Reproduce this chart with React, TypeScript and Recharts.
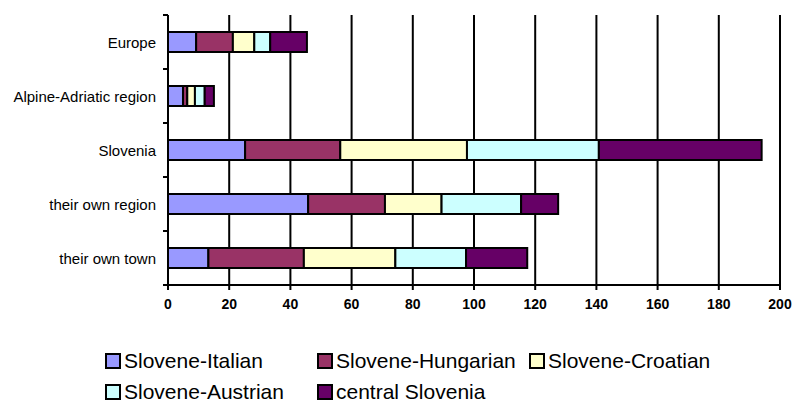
import React from 'react';
import { BarChart, Bar, XAxis, YAxis, CartesianGrid, Legend } from 'recharts';

const FONT = '"Liberation Sans", Arial, sans-serif';

// categories, listed top to bottom
const places = ['Europe', 'Alpine-Adriatic region', 'Slovenia', 'their own region', 'their own town'];

// values per series, same order as places
const sloveneItalian = [9.2, 4.9, 25.2, 45.8, 13.2];
const sloveneHungarian = [12.0, 1.4, 31.1, 25.1, 31.2];
const sloveneCroatian = [7.0, 2.5, 41.4, 18.5, 29.9];
const sloveneAustrian = [5.2, 3.2, 43.1, 26.0, 23.1];
const centralSlovenia = [12.0, 3.0, 53.2, 12.1, 20.0];

const xTicks = [0, 20, 40, 60, 80, 100, 120, 140, 160, 180, 200];

const series = [
  { key: 'italian', name: 'Slovene-Italian', color: '#9999FF', values: sloveneItalian },
  { key: 'hungarian', name: 'Slovene-Hungarian', color: '#993366', values: sloveneHungarian },
  { key: 'croatian', name: 'Slovene-Croatian', color: '#FFFFCC', values: sloveneCroatian },
  { key: 'austrian', name: 'Slovene-Austrian', color: '#CCFFFF', values: sloveneAustrian },
  { key: 'central', name: 'central Slovenia', color: '#660066', values: centralSlovenia },
];

const data = places.map((place, i) => {
  const row: Record<string, string | number> = { place };
  series.forEach(s => { row[s.key] = s.values[i]; });
  return row;
});

const BAND_HALF = 27; // half of one category band, for the boundary ticks

function PlaceTick(props: any) {
  const { x, y, payload, index } = props;
  return (
    <g>
      <text x={x} y={y} textAnchor="end" dominantBaseline="central"
        fontFamily={FONT} fontSize={15} fill="#000">
        {payload.value}
      </text>
      {index === 0 && (
        <line x1={x + 7} x2={x + 12} y1={y - BAND_HALF} y2={y - BAND_HALF} stroke="#000" strokeWidth={2} />
      )}
      <line x1={x + 7} x2={x + 12} y1={y + BAND_HALF} y2={y + BAND_HALF} stroke="#000" strokeWidth={2} />
    </g>
  );
}

function LegendBox() {
  return (
    <div style={{ position: 'relative', width: 796, height: 62, fontFamily: FONT }}>
      {series.map((s, i) => (
        <div key={s.key} style={{
          position: 'absolute',
          left: 105 + (i % 3) * 212,
          top: Math.floor(i / 3) * 31,
          display: 'flex', alignItems: 'center',
          fontSize: 21, lineHeight: '26px', color: '#000', whiteSpace: 'nowrap',
        }}>
          <span style={{
            display: 'inline-block', width: 12, height: 12,
            background: s.color, border: '2px solid #000', marginRight: 3,
          }} />
          {s.name}
        </div>
      ))}
    </div>
  );
}

export default function App() {
  return (
    <div style={{ position: 'absolute', left: 0, top: 0, width: 796, height: 402, background: '#fff' }}>
      <BarChart width={796} height={402} data={data} layout="vertical"
        margin={{ top: 15, right: 16, bottom: 87, left: 0 }} barSize={20}>
        <CartesianGrid horizontal={false} stroke="#000" strokeWidth={2} />
        <XAxis type="number" domain={[0, 200]} ticks={xTicks} height={30}
          tick={{ fontFamily: FONT, fontSize: 14, fontWeight: 'bold', fill: '#000' }}
          axisLine={{ stroke: '#000', strokeWidth: 2 }}
          tickLine={{ stroke: '#000', strokeWidth: 2 }}
          tickSize={5} tickMargin={9} />
        <YAxis type="category" dataKey="place" width={168}
          tick={<PlaceTick />} tickLine={false} tickSize={0} tickMargin={12}
          axisLine={{ stroke: '#000', strokeWidth: 2 }} />
        <Legend layout="horizontal" verticalAlign="middle" align="center"
          wrapperStyle={{ position: 'absolute', top: 348, left: 0, width: 796 }}
          content={() => <LegendBox />} />
        {series.map(s => (
          <Bar key={s.key} dataKey={s.key} name={s.name} stackId="a" fill={s.color}
            stroke="#000" strokeWidth={2} isAnimationActive={false} />
        ))}
      </BarChart>
    </div>
  );
}
